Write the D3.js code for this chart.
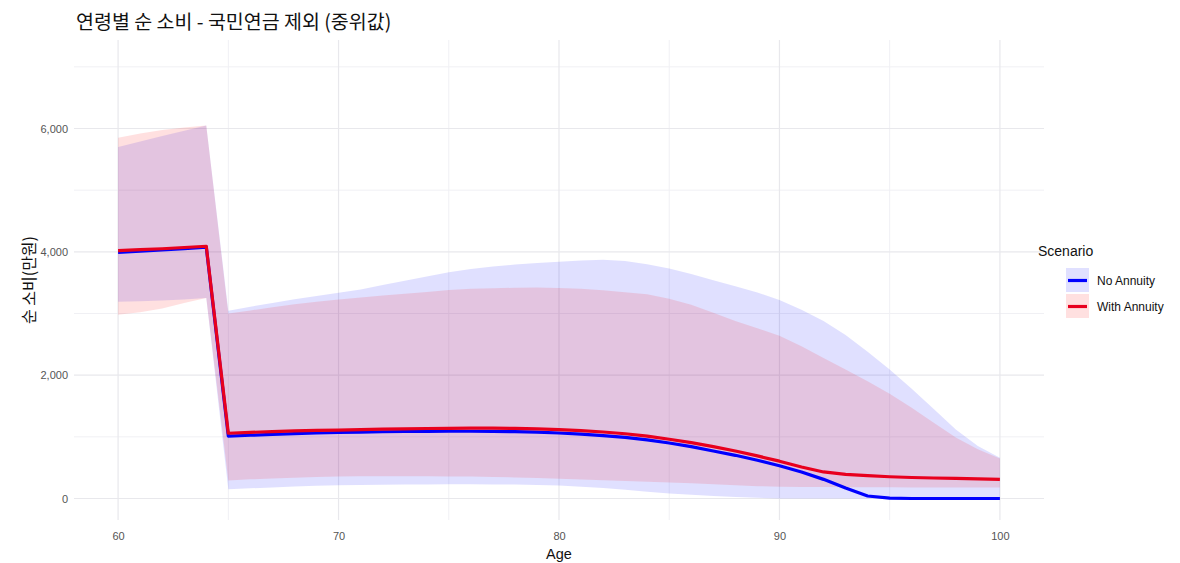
<!DOCTYPE html>
<html><head><meta charset="utf-8">
<script src="https://cdn.jsdelivr.net/npm/d3@7"></script>
<style>
body{margin:0;background:#fff;}
svg text{font-family:"Liberation Sans",Arial,sans-serif;}
</style></head>
<body><svg id="chart" width="1180" height="563"></svg>
<script>
const ages = d3.range(60, 101);
const noAnnuity = [3990,4010,4030,4050,4075,1012,1025,1040,1052,1062,1070,1077,1082,1086,1088,1090,1090,1088,1083,1075,1062,1043,1020,990,950,900,840,770,700,620,530,430,310,170,40,5,0,0,0,0,0];
const withAnnuity = [4020,4035,4050,4070,4090,1058,1072,1085,1095,1103,1110,1118,1124,1130,1135,1138,1140,1140,1137,1130,1118,1100,1078,1050,1010,960,905,840,770,690,605,510,430,390,370,352,340,332,325,318,310];
const noAnnuityLow = [3190,3200,3210,3225,3250,150,165,180,195,205,215,220,223,225,228,230,230,228,225,218,210,192,170,140,110,80,60,40,22,10,0,0,0,0,0,0,0,0,0,0,0];
const noAnnuityHigh = [5700,5790,5880,5965,6050,3045,3110,3170,3230,3285,3336,3390,3460,3530,3600,3670,3720,3760,3795,3820,3840,3860,3870,3850,3800,3730,3640,3540,3440,3340,3220,3060,2880,2650,2380,2090,1780,1450,1120,850,660];
const withAnnuityLow = [2980,3020,3080,3170,3250,290,310,325,338,348,356,360,362,362,360,358,355,350,342,332,320,308,295,282,270,260,245,230,215,200,190,188,186,184,182,181,180,180,179,178,178];
const withAnnuityHigh = [5850,5920,5975,6015,6050,3000,3050,3100,3150,3190,3225,3260,3290,3320,3350,3380,3400,3410,3417,3420,3415,3400,3375,3345,3310,3240,3140,3010,2880,2760,2640,2470,2280,2090,1900,1700,1470,1230,990,800,650];
const xTicks = [60,70,80,90,100];
const xMinor = [65,75,85,95];
const yTicks = [0,2000,4000,6000];
const yMinor = [1000,3000,5000,7000];
const seriesNames = ["No Annuity","With Annuity"];
const titleText = "연령별 순 소비 - 국민연금 제외 (중위값)";
const xLabel = "Age";
const yLabel = "순 소비(만원)";
const legendTitle = "Scenario";

const colors = {"No Annuity":"#0000ff","With Annuity":"#e8001e"};
const fills = {"No Annuity":"rgba(0,0,255,0.12)","With Annuity":"rgba(255,0,0,0.12)"};

const svg = d3.select("#chart");
const L=74, R=1044, T=40, B=520;
const x = d3.scaleLinear().domain([58,102]).range([L,R]);
const y = d3.scaleLinear().domain([-349,7435]).range([B,T]);

const grid = svg.append("g");
xMinor.forEach(v=>grid.append("line").attr("x1",x(v)).attr("x2",x(v)).attr("y1",T).attr("y2",B).attr("stroke","#f0f0f4").attr("stroke-width",1));
yMinor.forEach(v=>grid.append("line").attr("x1",L).attr("x2",R).attr("y1",y(v)).attr("y2",y(v)).attr("stroke","#f0f0f4").attr("stroke-width",1));
xTicks.forEach(v=>grid.append("line").attr("x1",x(v)).attr("x2",x(v)).attr("y1",T).attr("y2",B).attr("stroke","#e8e8ec").attr("stroke-width",1.2));
yTicks.forEach(v=>grid.append("line").attr("x1",L).attr("x2",R).attr("y1",y(v)).attr("y2",y(v)).attr("stroke","#e8e8ec").attr("stroke-width",1.2));

const series = [
  {name:"No Annuity", mid:noAnnuity, lo:noAnnuityLow, hi:noAnnuityHigh},
  {name:"With Annuity", mid:withAnnuity, lo:withAnnuityLow, hi:withAnnuityHigh}
];
const area = d3.area().x(d=>x(d.a)).y0(d=>y(d.lo)).y1(d=>y(d.hi));
const line = d3.line().x(d=>x(d.a)).y(d=>y(d.v));
series.forEach(s=>{
  const d = ages.map((a,i)=>({a, lo:s.lo[i], hi:s.hi[i]}));
  svg.append("path").attr("d",area(d)).attr("fill",fills[s.name]);
});
series.forEach(s=>{
  const d = ages.map((a,i)=>({a, v:s.mid[i]}));
  svg.append("path").attr("d",line(d)).attr("fill","none").attr("stroke",colors[s.name]).attr("stroke-width",3.2).attr("stroke-linejoin","round");
});

// axes
const xAxis = svg.append("g").attr("transform",`translate(0,${B})`).call(d3.axisBottom(x).tickValues(xTicks).tickSize(0).tickPadding(12));
const yAxis = svg.append("g").attr("transform",`translate(${L},0)`).call(d3.axisLeft(y).tickValues(yTicks).tickSize(0).tickPadding(6).tickFormat(d3.format(",")));
[xAxis,yAxis].forEach(a=>{a.select(".domain").remove(); a.selectAll("text").attr("fill","#555").attr("font-size","11px").attr("font-family","Liberation Sans, Arial, sans-serif");});

svg.append("text").attr("x",x(80)).attr("y",559).attr("text-anchor","middle").attr("font-size","14.5px").attr("fill","#111").text(xLabel);
svg.append("text").attr("transform",`translate(35,${(T+B)/2}) rotate(-90)`).attr("text-anchor","middle").attr("font-size","16px").attr("fill","#111").style("font-family","'Noto Sans CJK KR',sans-serif").text(yLabel);
svg.append("text").attr("x",76).attr("y",29).attr("font-size","19.5px").attr("fill","#111").style("font-family","'Noto Sans CJK KR',sans-serif").text(titleText);

// legend
const lg = svg.append("g");
lg.append("text").attr("x",1038).attr("y",256).attr("font-size","14px").attr("fill","#111").text(legendTitle);
seriesNames.forEach((n,i)=>{
  const yy = 268 + i*26;
  lg.append("rect").attr("x",1066).attr("y",yy).attr("width",23).attr("height",24).attr("fill",fills[n]);
  lg.append("line").attr("x1",1068).attr("x2",1087).attr("y1",yy+12.5).attr("y2",yy+12.5).attr("stroke",colors[n]).attr("stroke-width",3.2);
  lg.append("text").attr("x",1097).attr("y",yy+17).attr("font-size","12px").attr("fill","#111").text(n);
});
</script></body></html>
